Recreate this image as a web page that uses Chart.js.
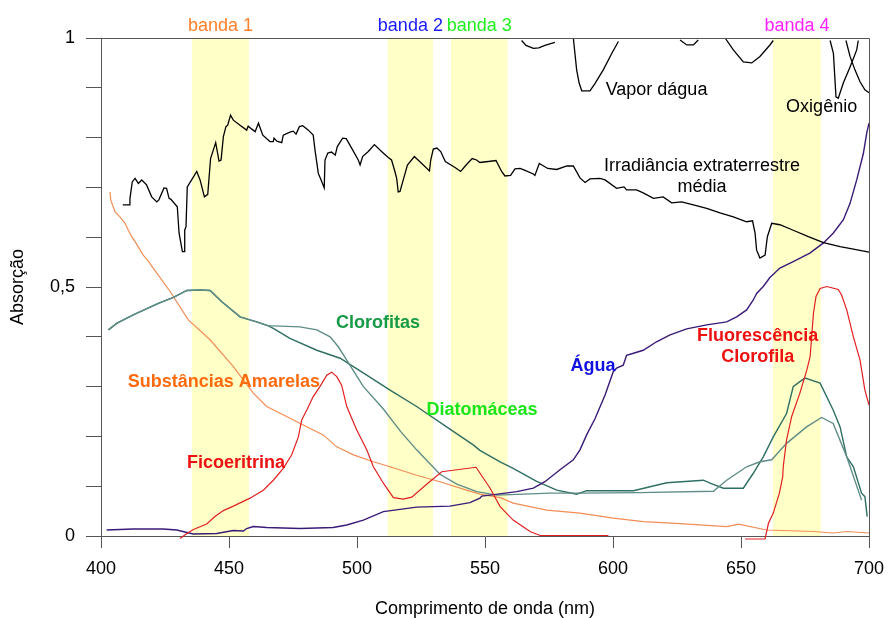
<!DOCTYPE html>
<html>
<head>
<meta charset="utf-8">
<script src="https://cdn.jsdelivr.net/npm/chart.js@4.4.1/dist/chart.umd.min.js"></script>
<style>
  html, body { margin: 0; padding: 0; background: #fff; }
  #wrap { width: 890px; height: 618px; }
</style>
</head>
<body>
<div id="wrap"><canvas id="chart" width="890" height="618"></canvas></div>
<script>
// Comprimento de onda (nm) e absorção relativa de cada curva

const irradNm = [408.5, 411.0, 411.3, 412.2, 413.3, 414.6, 415.9, 417.8, 419.8, 421.8, 422.6, 424.6, 425.6, 426.6, 427.3, 429.8, 430.5, 431.8, 432.6, 432.7, 433.2, 433.7, 435.4, 437.4, 438.7, 440.4, 441.7, 442.8, 444.8, 446.1, 446.9, 447.8, 448.8, 449.5, 450.6, 451.7, 454.3, 456.9, 457.5, 458.9, 460.2, 461.5, 463.2, 466.0, 467.3, 467.6, 468.7, 470.6, 471.2, 473.8, 475.1, 476.2, 477.5, 478.8, 481.0, 482.9, 483.6, 484.9, 485.9, 487.2, 487.5, 488.6, 490.0, 491.5, 492.3, 494.4, 495.8, 497.9, 500.5, 501.2, 502.2, 504.4, 506.8, 509.6, 512.2, 513.5, 514.8, 515.5, 516.1, 516.8, 518.4, 519.7, 522.4, 525.3, 528.3, 528.8, 529.8, 531.2, 532.7, 534.5, 538.3, 540.5, 542.8, 545.0, 546.7, 548.0, 551.3, 554.3, 556.5, 557.8, 560.0, 561.7, 563.7, 565.2, 568.9, 569.5, 571.2, 574.5, 578.0, 582.0, 584.5, 587.1, 589.1, 591.0, 594.9, 596.9, 601.4, 604.3, 605.3, 609.2, 611.8, 615.8, 619.6, 622.9, 626.8, 631.4, 636.6, 641.8, 647.0, 652.2, 654.5, 655.5, 656.1, 657.4, 659.4, 660.3, 662.0, 665.2, 670.4, 676.3, 682.2, 688.7, 693.9, 700.0];
const irradAbs = [0.665, 0.665, 0.677, 0.711, 0.718, 0.708, 0.715, 0.705, 0.681, 0.671, 0.675, 0.699, 0.698, 0.678, 0.676, 0.661, 0.608, 0.571, 0.571, 0.614, 0.621, 0.701, 0.715, 0.732, 0.715, 0.681, 0.686, 0.758, 0.790, 0.753, 0.755, 0.802, 0.822, 0.825, 0.845, 0.835, 0.825, 0.815, 0.823, 0.817, 0.812, 0.829, 0.805, 0.792, 0.792, 0.799, 0.793, 0.790, 0.805, 0.811, 0.813, 0.807, 0.822, 0.824, 0.815, 0.805, 0.775, 0.728, 0.716, 0.699, 0.755, 0.769, 0.771, 0.765, 0.782, 0.799, 0.798, 0.779, 0.755, 0.745, 0.762, 0.772, 0.786, 0.772, 0.760, 0.755, 0.732, 0.718, 0.691, 0.692, 0.721, 0.745, 0.762, 0.748, 0.733, 0.755, 0.777, 0.779, 0.772, 0.752, 0.740, 0.732, 0.746, 0.758, 0.755, 0.750, 0.752, 0.754, 0.732, 0.723, 0.724, 0.737, 0.738, 0.735, 0.727, 0.724, 0.748, 0.738, 0.736, 0.743, 0.743, 0.719, 0.710, 0.717, 0.718, 0.715, 0.698, 0.701, 0.695, 0.695, 0.689, 0.678, 0.681, 0.669, 0.671, 0.665, 0.658, 0.649, 0.641, 0.631, 0.633, 0.608, 0.574, 0.558, 0.564, 0.601, 0.628, 0.625, 0.614, 0.601, 0.589, 0.581, 0.576, 0.570];

// bandas de vapor d'água (trechos separados por null)
const vaporNm  = [564.3, 566.0, 568.9, 571.0, 573.4, 577.3, 580.0, 584.5, 585.8, 586.8, 587.8, 591.0, 593.0, 596.2, 599.5, 602.1, 615.0, 626.2, 628.8, 631.4, 633.3, 640.0, 643.8, 647.0, 650.9, 654.2, 657.4, 661.3, 662.6];
const vaporAbs = [0.995, 0.985, 0.979, 0.980, 0.985, 0.991, null, 1.000, 0.936, 0.909, 0.894, 0.894, 0.909, 0.936, 0.969, 0.993, null, 0.996, 0.986, 0.986, 0.996, null, 1.000, 0.976, 0.952, 0.950, 0.963, 0.986, 0.995];

// banda do oxigênio
const oxigNm  = [684.8, 686.1, 687.1, 688.0, 690.0, 692.6, 695.2, 695.8, 690.5, 691.0, 692.6, 694.5, 696.5, 698.4, 700.0];
const oxigAbs = [0.995, 0.969, 0.882, 0.879, 0.910, 0.942, 0.976, 0.995, null, 0.995, 0.963, 0.936, 0.912, 0.896, 0.890];

const amarelasNm  = [403.5, 403.8, 405.5, 407.4, 409.4, 410.7, 412.0, 413.3, 416.5, 418.5, 420.4, 427.0, 434.1, 442.6, 451.7, 459.5, 464.7, 472.5, 479.0, 486.8, 492.1, 498.6, 506.4, 512.9, 523.3, 532.4, 542.8, 548.0, 556.0, 561.0, 574.1, 587.1, 600.1, 611.8, 626.2, 644.4, 649.0, 660.0, 678.2, 686.0, 691.3, 700.0];
const amarelasAbs = [0.691, 0.675, 0.651, 0.641, 0.628, 0.614, 0.601, 0.591, 0.564, 0.552, 0.538, 0.491, 0.434, 0.394, 0.340, 0.287, 0.260, 0.240, 0.223, 0.203, 0.179, 0.163, 0.149, 0.139, 0.122, 0.109, 0.092, 0.084, 0.077, 0.066, 0.052, 0.046, 0.036, 0.029, 0.025, 0.019, 0.024, 0.012, 0.009, 0.006, 0.009, 0.006];

const clorofitasNm  = [402.9, 406.1, 412.6, 422.4, 428.3, 433.5, 438.7, 442.6, 447.1, 454.3, 460.8, 465.4, 467.3, 477.7, 484.3, 489.5, 492.7, 496.0, 502.5, 510.3, 517.0, 523.3, 532.4, 539.0, 546.8, 554.6, 560.0, 575.4, 587.0, 610.0, 639.2, 644.4, 652.2, 657.4, 662.0, 667.8, 675.6, 681.5, 686.0, 691.3, 697.1];
const clorofitasAbs = [0.414, 0.427, 0.444, 0.467, 0.479, 0.493, 0.494, 0.493, 0.471, 0.440, 0.430, 0.422, 0.422, 0.420, 0.414, 0.400, 0.380, 0.353, 0.300, 0.255, 0.210, 0.173, 0.124, 0.104, 0.089, 0.082, 0.083, 0.086, 0.086, 0.087, 0.090, 0.112, 0.139, 0.149, 0.153, 0.186, 0.219, 0.238, 0.226, 0.159, 0.072];

const diatomNm  = [402.9, 406.1, 412.6, 422.4, 428.3, 433.5, 438.7, 442.6, 447.1, 454.3, 460.8, 465.4, 467.3, 473.8, 484.3, 493.4, 503.8, 512.9, 523.3, 535.0, 545.4, 548.0, 555.9, 561.0, 570.0, 578.0, 585.8, 589.7, 608.0, 621.0, 635.3, 637.9, 643.1, 650.9, 654.8, 658.7, 662.6, 667.8, 670.4, 673.0, 675.0, 680.9, 686.0, 688.7, 691.3, 693.9, 697.1, 698.4, 699.3];
const diatomAbs = [0.414, 0.427, 0.444, 0.467, 0.479, 0.493, 0.494, 0.493, 0.471, 0.440, 0.430, 0.422, 0.417, 0.397, 0.373, 0.357, 0.323, 0.293, 0.260, 0.219, 0.183, 0.172, 0.149, 0.136, 0.110, 0.092, 0.084, 0.091, 0.091, 0.107, 0.112, 0.106, 0.096, 0.096, 0.126, 0.159, 0.199, 0.246, 0.300, 0.310, 0.317, 0.307, 0.253, 0.219, 0.159, 0.139, 0.086, 0.079, 0.039];

const aguaNm  = [402.2, 412.6, 424.3, 429.6, 436.0, 445.2, 451.7, 455.6, 456.9, 459.5, 464.7, 477.7, 490.7, 496.0, 502.5, 510.3, 523.3, 536.3, 544.1, 548.0, 548.7, 552.0, 562.4, 568.9, 573.4, 579.3, 584.5, 587.1, 589.7, 593.0, 596.9, 600.1, 601.4, 604.0, 605.3, 608.0, 611.8, 617.0, 622.3, 628.8, 636.6, 644.4, 648.3, 652.2, 654.8, 656.1, 658.7, 661.3, 665.2, 670.4, 676.9, 682.1, 686.0, 690.0, 692.6, 695.2, 697.8, 699.1, 700.0];
const aguaAbs = [0.012, 0.014, 0.014, 0.012, 0.004, 0.005, 0.011, 0.010, 0.015, 0.019, 0.017, 0.015, 0.017, 0.022, 0.032, 0.049, 0.058, 0.060, 0.067, 0.076, 0.080, 0.082, 0.089, 0.096, 0.109, 0.133, 0.153, 0.173, 0.203, 0.236, 0.283, 0.330, 0.337, 0.343, 0.363, 0.367, 0.373, 0.390, 0.404, 0.416, 0.424, 0.430, 0.440, 0.454, 0.474, 0.487, 0.501, 0.519, 0.538, 0.551, 0.568, 0.588, 0.608, 0.635, 0.668, 0.715, 0.768, 0.809, 0.829];

const ficoNm  = [430.9, 433.5, 436.1, 441.3, 444.5, 447.8, 451.7, 458.2, 463.4, 467.3, 471.2, 474.5, 477.1, 478.4, 480.4, 482.9, 485.5, 488.2, 490.1, 492.1, 494.0, 496.0, 499.9, 503.8, 506.4, 510.3, 514.2, 518.1, 521.4, 527.2, 533.1, 546.5, 552.0, 555.9, 561.0, 567.6, 571.5, 598.2];
const ficoAbs = [-0.005, 0.005, 0.013, 0.024, 0.039, 0.051, 0.060, 0.076, 0.092, 0.112, 0.136, 0.163, 0.199, 0.233, 0.253, 0.280, 0.300, 0.323, 0.329, 0.320, 0.303, 0.260, 0.213, 0.173, 0.139, 0.106, 0.077, 0.074, 0.078, 0.104, 0.129, 0.138, 0.096, 0.059, 0.032, 0.009, 0.001, 0.001];

const fluorNm  = [651.6, 659.4, 660.7, 662.6, 665.0, 666.3, 666.5, 667.8, 669.8, 673.0, 675.7, 677.0, 677.6, 678.3, 679.3, 680.9, 683.5, 688.0, 689.3, 691.3, 693.9, 696.5, 698.4, 700.0];
const fluorAbs = [-0.006, -0.006, 0.025, 0.046, 0.086, 0.119, 0.139, 0.193, 0.240, 0.287, 0.333, 0.360, 0.400, 0.447, 0.481, 0.497, 0.501, 0.495, 0.484, 0.454, 0.400, 0.353, 0.293, 0.263];

// bandas espectrais do sensor
const bandNames = ['banda 1', 'banda 2', 'banda 3', 'banda 4'];
const bandFrom  = [435.5, 512.0, 536.7, 662.5];
const bandTo    = [457.8, 529.7, 558.8, 681.2];

const xTicks = [400, 450, 500, 550, 600, 650, 700];
const yTickLabels = { 0: '0', 0.5: '0,5', 1: '1' };

const FONT = "'Liberation Sans', Arial, sans-serif";

const bandColors = ['#ff7f2a', '#1a1aff', '#22ee22', '#ff22ff'];

// rótulos das curvas, em coordenadas do gráfico (nm, absorção)
const curveLabels = [
  { lines: ['Vapor dágua'], nm: 617.0, abs: 0.895, color: '#000', bold: false },
  { lines: ['Oxigênio'], nm: 681.5, abs: 0.861, color: '#000', bold: false },
  { lines: ['Irradiância extraterrestre', 'média'], nm: 634.8, abs: 0.743, color: '#000', bold: false },
  { lines: ['Clorofitas'], nm: 508.2, abs: 0.428, color: '#179a45', bold: true },
  { lines: ['Substâncias Amarelas'], nm: 448.0, abs: 0.309, color: '#ff6a0d', bold: true },
  { lines: ['Ficoeritrina'], nm: 452.7, abs: 0.147, color: '#ee1111', bold: true },
  { lines: ['Diatomáceas'], nm: 548.8, abs: 0.253, color: '#19e619', bold: true },
  { lines: ['Água'], nm: 592.2, abs: 0.341, color: '#1010e0', bold: true },
  { lines: ['Fluorescência', 'Clorofila'], nm: 656.5, abs: 0.402, color: '#ee1111', bold: true }
];

const toPoints = (xs, ys) => xs.map((x, i) => ({ x: x, y: ys[i] }));

function lineSet(label, xs, ys, color, width) {
  return {
    label: label,
    data: toPoints(xs, ys),
    borderColor: color,
    borderWidth: width,
    pointRadius: 0,
    tension: 0,
    fill: false,
    spanGaps: false,
    clip: false
  };
}

const bandsPlugin = {
  id: 'bands',
  beforeDatasetsDraw(chart) {
    const { ctx, chartArea, scales } = chart;
    ctx.save();
    ctx.fillStyle = 'rgb(255,255,200)';
    bandFrom.forEach((a, i) => {
      const x0 = scales.x.getPixelForValue(a);
      const x1 = scales.x.getPixelForValue(bandTo[i]);
      ctx.fillRect(x0, chartArea.top, x1 - x0, chartArea.bottom - chartArea.top);
    });
    ctx.restore();
  },
  afterDraw(chart) {
    const { ctx, chartArea, scales } = chart;
    ctx.save();
    ctx.font = '18px ' + FONT;
    ctx.textAlign = 'center';
    ctx.textBaseline = 'middle';
    bandNames.forEach((name, i) => {
      const xc = scales.x.getPixelForValue((bandFrom[i] + bandTo[i]) / 2);
      ctx.fillStyle = bandColors[i];
      ctx.fillText(name, xc, chartArea.top - 12);
    });
    ctx.restore();
  }
};

const framePlugin = {
  id: 'frame',
  afterDatasetsDraw(chart) {
    const { ctx, chartArea } = chart;
    ctx.save();
    ctx.strokeStyle = '#555';
    ctx.lineWidth = 1;
    ctx.beginPath();
    ctx.moveTo(chartArea.left, chartArea.top + 0.5);
    ctx.lineTo(chartArea.right + 0.5, chartArea.top + 0.5);
    ctx.lineTo(chartArea.right + 0.5, chartArea.bottom);
    ctx.stroke();
    ctx.restore();
  }
};

const labelsPlugin = {
  id: 'curveLabels',
  afterDatasetsDraw(chart) {
    const { ctx, scales } = chart;
    ctx.save();
    ctx.textAlign = 'center';
    ctx.textBaseline = 'middle';
    curveLabels.forEach(l => {
      ctx.font = (l.bold ? 'bold ' : '') + '18px ' + FONT;
      ctx.fillStyle = l.color;
      const x = scales.x.getPixelForValue(l.nm);
      const y = scales.y.getPixelForValue(l.abs);
      l.lines.forEach((t, k) => ctx.fillText(t, x, y + k * 21));
    });
    ctx.restore();
  }
};

new Chart(document.getElementById('chart'), {
  type: 'line',
  data: {
    datasets: [
      lineSet('Irradiância extraterrestre média', irradNm, irradAbs, '#000', 1.3),
      lineSet('Vapor dágua', vaporNm, vaporAbs, '#000', 1.3),
      lineSet('Oxigênio', oxigNm, oxigAbs, '#000', 1.3),
      lineSet('Fluorescência Clorofila', fluorNm, fluorAbs, '#e02020', 1.2),
      lineSet('Ficoeritrina', ficoNm, ficoAbs, '#e02020', 1.2),
      lineSet('Água', aguaNm, aguaAbs, '#3a1a78', 1.4),
      lineSet('Clorofitas', clorofitasNm, clorofitasAbs, '#5f8d87', 1.4),
      lineSet('Diatomáceas', diatomNm, diatomAbs, '#2f6e62', 1.4),
      lineSet('Substâncias Amarelas', amarelasNm, amarelasAbs, '#f28d55', 1.2)
    ]
  },
  options: {
    responsive: false,
    animation: false,
    devicePixelRatio: 1,
    layout: { autoPadding: false, padding: { top: 38, right: 21, bottom: 0, left: 0 } },
    plugins: { legend: { display: false }, tooltip: { enabled: false } },
    scales: {
      x: {
        type: 'linear',
        min: 400,
        max: 700,
        afterBuildTicks(scale) { scale.ticks = xTicks.map(v => ({ value: v })); },
        afterFit(scale) {
          scale.height = 82;
          scale.paddingLeft = 0;
          scale.paddingRight = 0;
        },
        ticks: {
          color: '#000',
          font: { family: FONT, size: 18 },
          padding: 10,
          maxRotation: 0,
          callback: v => String(v)
        },
        grid: { drawOnChartArea: false, drawTicks: true, tickLength: 12, color: '#555' },
        border: { display: true, color: '#555' },
        title: {
          display: true,
          text: 'Comprimento de onda (nm)',
          color: '#000',
          font: { family: FONT, size: 18, lineHeight: 1.0 },
          padding: { top: 0, bottom: 0 }
        }
      },
      y: {
        min: 0,
        max: 1,
        afterFit(scale) {
          scale.width = 101;
          scale.paddingTop = 0;
          scale.paddingBottom = 0;
        },
        ticks: {
          stepSize: 0.1,
          color: '#000',
          font: { family: FONT, size: 18 },
          padding: 11,
          callback: v => {
            const r = Math.round(v * 10) / 10;
            return yTickLabels[r] !== undefined ? yTickLabels[r] : '';
          }
        },
        grid: { drawOnChartArea: false, drawTicks: true, tickLength: 15, color: '#555' },
        border: { display: true, color: '#555' },
        title: {
          display: true,
          text: 'Absorção',
          color: '#000',
          font: { family: FONT, size: 18 },
          padding: { top: 7, bottom: 0 }
        }
      }
    }
  },
  plugins: [bandsPlugin, framePlugin, labelsPlugin]
});
</script>
</body>
</html>
